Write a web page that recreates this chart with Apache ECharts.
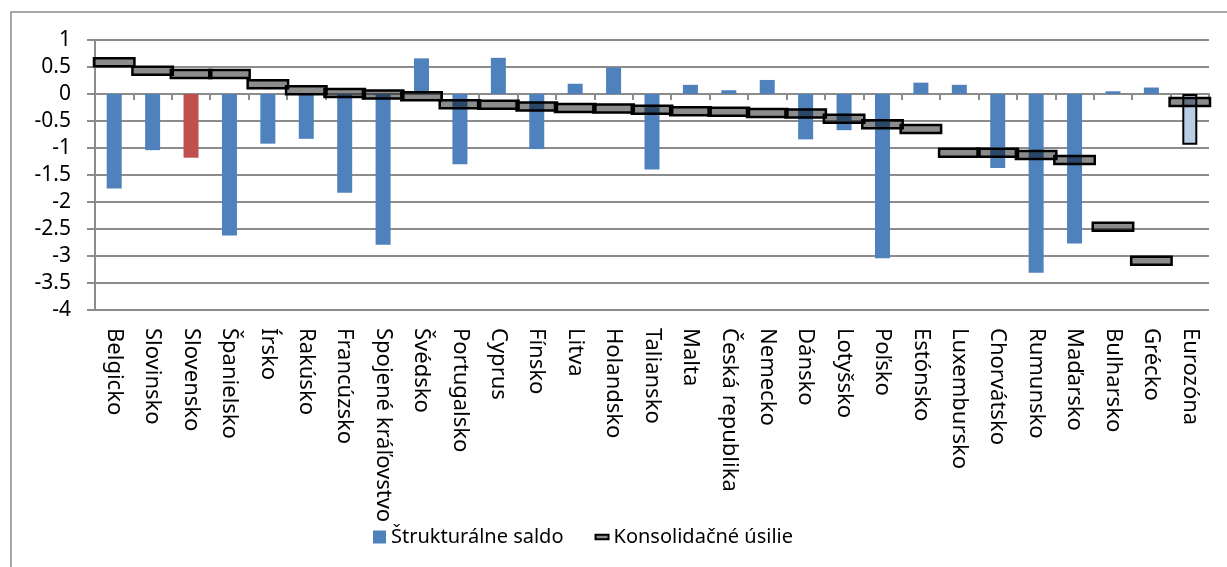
<!DOCTYPE html>
<html>
<head>
<meta charset="utf-8">
<script src="https://cdn.jsdelivr.net/npm/echarts@6/dist/echarts.min.js"></script>
<style>
  html, body { margin: 0; padding: 0; background: #fff; }
  #main { width: 1227px; height: 567px; }
</style>
</head>
<body>
<div id="main"></div>
<script>
// krajiny
var categories = ['Belgicko', 'Slovinsko', 'Slovensko', 'Španielsko', 'Írsko', 'Rakúsko', 'Francúzsko',
  'Spojené kráľovstvo', 'Švédsko', 'Portugalsko', 'Cyprus', 'Fínsko', 'Litva', 'Holandsko', 'Taliansko',
  'Malta', 'Česká republika', 'Nemecko', 'Dánsko', 'Lotyšsko', 'Poľsko', 'Estónsko', 'Luxembursko',
  'Chorvátsko', 'Rumunsko', 'Maďarsko', 'Bulharsko', 'Grécko', 'Eurozóna'];

// Štrukturálne saldo
var saldo = [-1.75, -1.04, -1.18, -2.62, -0.92, -0.83, -1.83, -2.79, 0.66, -1.30, 0.67, -1.02, 0.19, 0.49,
  -1.40, 0.17, 0.07, 0.26, -0.84, -0.67, -3.04, 0.21, 0.17, -1.37, -3.31, -2.77, 0.05, 0.12, -0.94];

// Konsolidačné úsilie
var usilie = [0.59, 0.43, 0.37, 0.37, 0.18, 0.07, 0.02, -0.01, -0.04, -0.19, -0.20, -0.23, -0.26, -0.27,
  -0.29, -0.32, -0.33, -0.35, -0.36, -0.46, -0.56, -0.65, -1.09, -1.09, -1.13, -1.22, -2.46, -3.09, -0.15];

var font = 'Noto Sans';
var gridColor = '#8c8c8c';

var saldoData = saldo.map(function (v, i) {
  if (categories[i] === 'Slovensko') return { value: v, itemStyle: { color: '#C0504D' } };
  if (categories[i] === 'Eurozóna') return { value: v, itemStyle: { color: '#B9CDE5', borderColor: '#000', borderWidth: 2 } };
  return v;
});

// znacky usilia: obdlznik cez celu sirku kategorie
function renderUsilie(params, api) {
  var p = api.coord([api.value(0), api.value(1)]);
  var w = api.size([1, 0])[0] + 2;
  var h = 8;
  return {
    type: 'rect',
    shape: { x: p[0] - w / 2, y: p[1] - h / 2, width: w, height: h },
    style: { fill: 'rgba(0,0,0,0.45)', stroke: '#000', lineWidth: 2.5 }
  };
}

var myChart = echarts.init(document.getElementById('main'));
myChart.setOption({
  animation: false,
  backgroundColor: '#fff',
  graphic: [{
    type: 'rect',
    shape: { x: 11, y: 12, width: 1240, height: 580 },
    style: { fill: 'none', stroke: '#8c8c8c', lineWidth: 1.5 },
    silent: true
  }],
  legend: {
    left: 368,
    top: 522,
    itemGap: 31,
    itemWidth: 13,
    itemHeight: 13,
    textStyle: { fontFamily: font, fontSize: 20, color: '#000' },
    data: [
      { name: 'Štrukturálne saldo', icon: 'rect', itemStyle: { color: '#4F81BD', borderWidth: 0 } },
      { name: 'Konsolidačné úsilie', icon: 'path://M0,0 M0,4 h14 v5 h-14 z M14,13',
        itemStyle: { color: '#8c8c8c', borderColor: '#000', borderWidth: 2 } }
    ]
  },
  grid: { left: 95, right: 18, top: 40, bottom: 257 },
  xAxis: [{
    type: 'category',
    data: categories,
    position: 'bottom',
    axisLine: { show: false, onZero: false },
    axisTick: { show: false },
    axisLabel: {
      interval: 0,
      rotate: -90,
      margin: 18,
      fontFamily: font,
      fontSize: 22,
      color: '#000'
    }
  }, {
    type: 'category',
    data: categories,
    position: 'bottom',
    axisLine: { show: true, onZero: true, lineStyle: { color: gridColor, width: 2 } },
    axisTick: { show: true, interval: 0, length: 6, lineStyle: { color: gridColor, width: 2 } },
    axisLabel: { show: false }
  }],
  yAxis: {
    type: 'value',
    min: -4,
    max: 1,
    interval: 0.5,
    axisLine: { show: true, lineStyle: { color: gridColor, width: 2 } },
    axisTick: { show: true, length: 8, lineStyle: { color: gridColor, width: 2 } },
    splitLine: { show: true, lineStyle: { color: gridColor, width: 2 } },
    axisLabel: { margin: 24, fontFamily: font, fontSize: 21, color: '#000' }
  },
  series: [{
    name: 'Štrukturálne saldo',
    type: 'bar',
    xAxisIndex: 0,
    barWidth: 15,
    itemStyle: { color: '#4F81BD' },
    data: saldoData,
    z: 2
  }, {
    name: 'Konsolidačné úsilie',
    type: 'custom',
    xAxisIndex: 0,
    renderItem: renderUsilie,
    itemStyle: { color: '#8c8c8c', borderColor: '#000', borderWidth: 2 },
    data: usilie.map(function (v, i) { return [i, v]; }),
    z: 3
  }]
});
</script>
</body>
</html>
